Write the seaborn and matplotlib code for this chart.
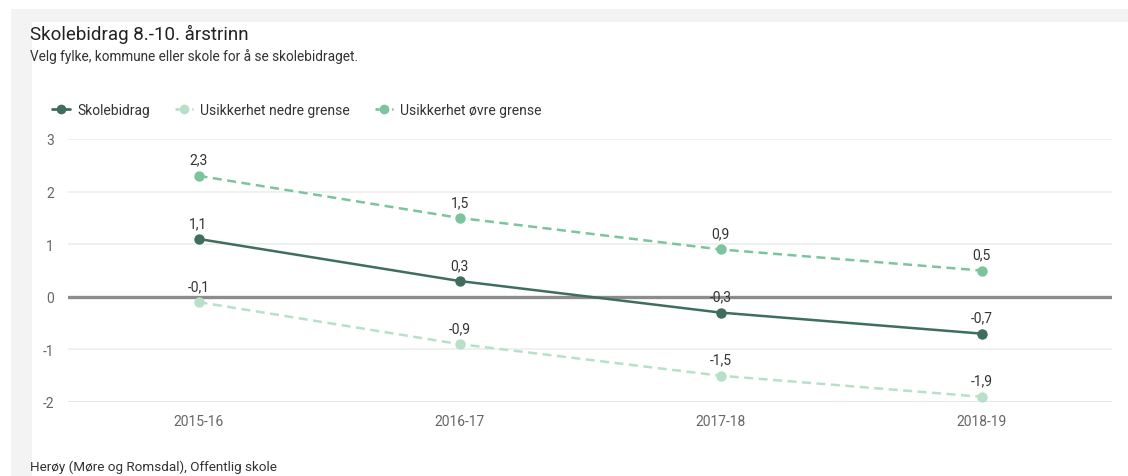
import matplotlib
matplotlib.use("Agg")
import matplotlib.pyplot as plt
from matplotlib.lines import Line2D
import seaborn as sns
import pandas as pd

seasons = ["2015-16", "2016-17", "2017-18", "2018-19"]
skolebidrag = [1.1, 0.3, -0.3, -0.7]
nedre = [-0.1, -0.9, -1.5, -1.9]
ovre = [2.3, 1.5, 0.9, 0.5]
yticks = [-2, -1, 0, 1, 2, 3]

series_names = ["Skolebidrag", "Usikkerhet nedre grense", "Usikkerhet øvre grense"]
colors = {"Skolebidrag": "#3f6e5c",
          "Usikkerhet nedre grense": "#b8e0c8",
          "Usikkerhet øvre grense": "#7cc49d"}
dashed = {"Skolebidrag": False, "Usikkerhet nedre grense": True, "Usikkerhet øvre grense": True}

df = pd.DataFrame({
    "Sesong": seasons * 3,
    "Verdi": skolebidrag + nedre + ovre,
    "Serie": ["Skolebidrag"] * 4 + ["Usikkerhet nedre grense"] * 4 + ["Usikkerhet øvre grense"] * 4,
})

sns.set_theme(style="white")
plt.rcParams['font.family'] = ['Roboto', 'DejaVu Sans']

W, H = 1128, 477
fig = plt.figure(figsize=(W / 100, H / 100), dpi=100)
fig.patch.set_facecolor("white")

# background: gray frame (top band + left strip), white panel
bg = fig.add_axes([0, 0, 1, 1], zorder=-10)
bg.set_xlim(0, W)
bg.set_ylim(H, 0)
bg.axis("off")
bg.add_patch(plt.Rectangle((11, 10), W - 11, 13, facecolor="#f3f3f3", edgecolor="none"))
bg.add_patch(plt.Rectangle((11, 10), 21, H - 10, facecolor="#f3f3f3", edgecolor="none"))

ax_left, ax_right = 68, 1112
ax_top, ax_bottom = 140, 403
ax = fig.add_axes([ax_left / W, 1 - ax_bottom / H, (ax_right - ax_left) / W, (ax_bottom - ax_top) / H])
ax.set_facecolor("none")

# gridlines
for yv in yticks:
    if yv == 0:
        ax.axhline(0, color="#8c8c8c", lw=2.4, zorder=1)
    elif yv == -2:
        ax.axhline(yv, color="#e3e7ef", lw=2.2, zorder=1)
    else:
        ax.axhline(yv, color="#eeeeee", lw=1.2, zorder=1)

for name in series_names:
    sub = df[df["Serie"] == name]
    sns.lineplot(data=sub, x="Sesong", y="Verdi", ax=ax, color=colors[name],
                 linestyle=(0, (3.6, 2.2)) if dashed[name] else "-", lw=1.8,
                 marker="o", markersize=7.5, markeredgewidth=0, sort=False,
                 legend=False, zorder=3, clip_on=False)
    for i, v in enumerate(sub["Verdi"]):
        ax.annotate(f"{v:.1f}".replace(".", ","), (i, v), xytext=(0, 6.5), textcoords="offset points",
                    ha="center", va="bottom", fontsize=10, color="#333333", zorder=4)

ax.set_xlim(-0.5, 3.5)
ax.set_ylim(-2, 3)
ax.set_yticks(yticks)
ax.set_yticklabels([str(t) for t in yticks])
ax.set_xlabel("")
ax.set_ylabel("")
for s in ax.spines.values():
    s.set_visible(False)
ax.tick_params(axis="both", length=0, labelsize=10, labelcolor="#666666")
ax.tick_params(axis="y", pad=10)
ax.tick_params(axis="x", pad=9)

# legend
handles = [Line2D([0], [0], color=colors[n], lw=2, linestyle=(0, (1.5, 1.5)) if dashed[n] else "-",
                  marker="o", markersize=7, markeredgewidth=0) for n in series_names]
leg = ax.legend(handles, series_names, loc="center left", bbox_to_anchor=(52 / W, 1 - 111 / H),
                bbox_transform=fig.transFigure,
                ncol=3, frameon=False, fontsize=10, handlelength=1.3, handletextpad=0.5,
                columnspacing=1.8, labelcolor="#333333", borderaxespad=0, borderpad=0)

fig.text(30 / W, 1 - 34 / H, "Skolebidrag 8.-10. årstrinn", fontsize=13.5, color="#222222",
         va="center", ha="left")
fig.text(30 / W, 1 - 57 / H, "Velg fylke, kommune eller skole for å se skolebidraget.", fontsize=9.8,
         color="#333333", va="center", ha="left")
fig.text(30 / W, 1 - 467 / H, "Herøy (Møre og Romsdal), Offentlig skole", fontsize=9.7,
         color="#333333", va="center", ha="left")

fig.savefig("out.png", dpi=100)
